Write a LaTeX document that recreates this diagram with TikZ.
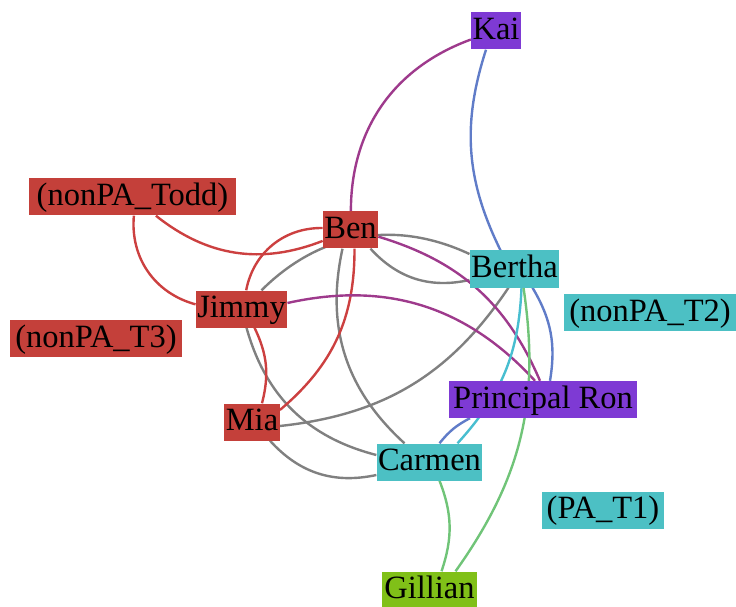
\documentclass[tikz,border=0pt]{standalone}
\usepackage{fontspec}
\setmainfont{Liberation Serif}
\usetikzlibrary{backgrounds}

\definecolor{groupred}{RGB}{196,64,58}
\definecolor{grouppurple}{RGB}{126,58,212}
\definecolor{groupcyan}{RGB}{76,192,196}
\definecolor{groupgreen}{RGB}{128,192,24}
\definecolor{linkred}{RGB}{204,64,64}
\definecolor{linkpurple}{RGB}{158,58,140}
\definecolor{linkblue}{RGB}{96,124,200}
\definecolor{linkcyan}{RGB}{72,190,208}
\definecolor{linkgreen}{RGB}{112,196,120}
\definecolor{linkgray}{RGB}{128,128,128}

\begin{document}
\begin{tikzpicture}[
    x=1pt, y=1pt,
    person/.style={inner xsep=1.5pt, inner ysep=3pt, text height=24pt,
                   text depth=7pt, font=\fontsize{32.5}{36}\selectfont},
    redbox/.style={person, fill=groupred},
    purplebox/.style={person, fill=grouppurple},
    cyanbox/.style={person, fill=groupcyan},
    greenbox/.style={person, fill=groupgreen},
    link/.style={line width=2.4pt},
]
    \useasboundingbox (0, 0) rectangle (736, 606);

    \node[purplebox] (kai) at (496, 575) {Kai};
    \node[redbox, minimum width=207pt] (todd) at (132.5, 409) {(nonPA\_Todd)};
    \node[redbox] (ben) at (350.5, 376) {Ben};
    \node[redbox] (jimmy) at (241.5, 297) {Jimmy};
    \node[redbox, minimum width=172pt] (t3) at (96, 267.5) {(nonPA\_T3)};
    \node[redbox] (mia) at (252, 184) {Mia};
    \node[cyanbox] (bertha) at (514.5, 337) {Bertha};
    \node[cyanbox, minimum width=172pt] (t2) at (650, 293.5) {(nonPA\_T2)};
    \node[purplebox, minimum width=188pt] (ron) at (543, 206.5) {Principal Ron};
    \node[cyanbox] (carmen) at (429.5, 144) {Carmen};
    \node[cyanbox, minimum width=122pt] (t1) at (603, 96) {(PA\_T1)};
    \node[greenbox, minimum width=95pt] (gillian) at (429.5, 16) {Gillian};

    \begin{scope}[on background layer]
    % grey ties
    \draw[link, linkgray] ([xshift=20pt]jimmy.north) to[bend left=35] ([yshift=15pt]bertha.west);
    \draw[link, linkgray] ([xshift=20pt]ben.south) to[bend right=30] ([yshift=-11pt]bertha.west);
    \draw[link, linkgray] ([xshift=-8pt]ben.south) to[bend right=30] ([xshift=-25pt]carmen.north);
    \draw[link, linkgray] ([xshift=5pt]jimmy.south) to[bend right=30] ([yshift=7pt]carmen.west);
    \draw[link, linkgray] ([xshift=18pt]mia.south) to[bend right=30] ([yshift=-13pt]carmen.west);
    \draw[link, linkgray] ([yshift=-4pt]mia.east) to[bend right=25] ([xshift=-6pt]bertha.south);

    % red ties
    \draw[link, linkred] (todd) to[bend right=30] (ben);
    \draw[link, linkred] (todd) to[bend right=40] (jimmy);
    \draw[link, linkred] (ben) to[bend right=40] (jimmy);
    \draw[link, linkred] ([xshift=4pt]ben.south) to[bend left=25] ([yshift=12pt]mia.east);
    \draw[link, linkred] ([xshift=13pt]jimmy.south) to[bend left=20] ([xshift=10pt]mia.north);

    % purple ties
    \draw[link, linkpurple] (kai) to[bend right=35] (ben);
    \draw[link, linkpurple] (ben) to[bend left=25] ([xshift=-3pt]ron.north);
    \draw[link, linkpurple] ([yshift=6pt]jimmy.east) to[bend left=30] ([xshift=-8pt]ron.north);

    % blue ties
    \draw[link, linkblue] ([xshift=-10pt]kai.south) to[bend right=22] ([xshift=-14pt]bertha.north);
    \draw[link, linkblue] ([xshift=18pt]bertha.south) to[bend left=20] ([xshift=7pt]ron.north);
    \draw[link, linkblue] ([xshift=10pt]carmen.north) to[bend left=12] ([xshift=-73pt]ron.south);

    % cyan and green ties
    \draw[link, linkcyan] ([xshift=7pt]bertha.south) to[bend left=20] ([xshift=28pt]carmen.north);
    \draw[link, linkgreen] ([xshift=9pt]bertha.south) to[bend left=22] ([xshift=26pt]gillian.north);
    \draw[link, linkgreen] ([xshift=10pt]carmen.south) to[bend left=20] ([xshift=12pt]gillian.north);
    \end{scope}
\end{tikzpicture}
\end{document}
